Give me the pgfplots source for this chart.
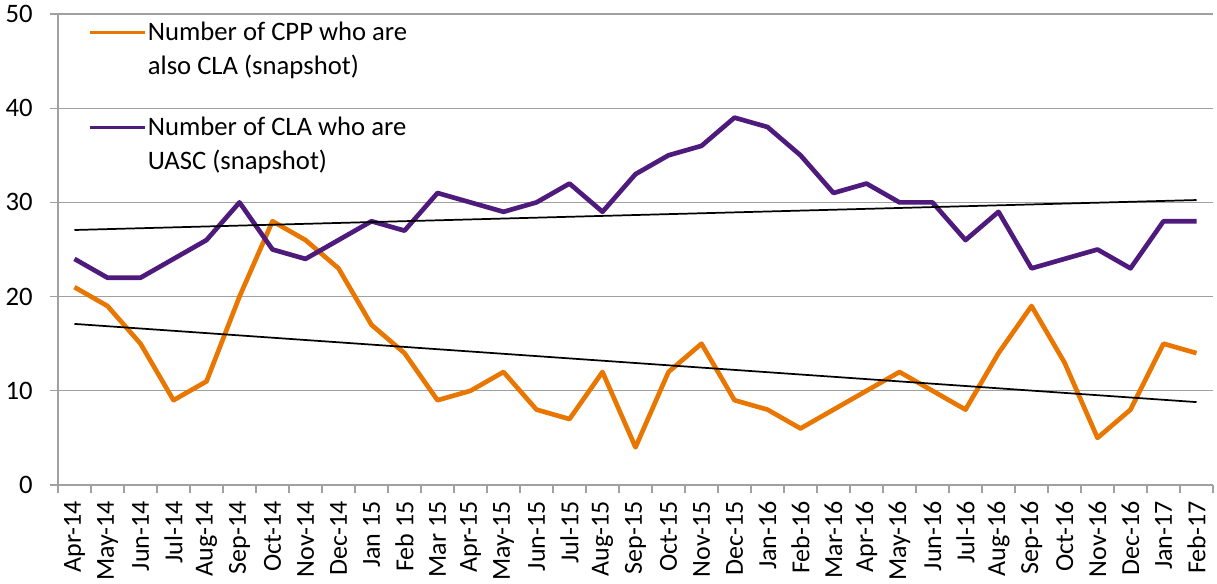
\documentclass[border=0pt]{standalone}
\usepackage{pgfplots}
\pgfplotsset{compat=1.18}
\usepackage{fontspec}
\setmainfont{Carlito}
\definecolor{cppor}{HTML}{E87600}
\definecolor{clapu}{HTML}{4E1A7C}
\definecolor{axgray}{HTML}{A0A0A0}
\begin{document}
\begin{tikzpicture}
\useasboundingbox (-43.5pt,-74.25pt) rectangle (869.25pt,363.75pt);
\begin{axis}[
  at={(0,0)}, anchor=south west,
  scale only axis,
  width=866.25pt, height=353.25pt,
  xmin=-0.5, xmax=34.5, ymin=0, ymax=50,
  axis x line*=bottom, axis y line*=left,
  axis line style={axgray, line width=1pt},
  ytick={0,10,20,30,40,50},
  ymajorgrids, grid style={axgray, line width=1pt},
  xtick={0,...,34},
  xticklabels={Apr-14,May-14,Jun-14,Jul-14,Aug-14,Sep-14,Oct-14,Nov-14,Dec-14,Jan 15,Feb 15,Mar 15,Apr-15,May-15,Jun-15,Jul-15,Aug-15,Sep-15,Oct-15,Nov-15,Dec-15,Jan-16,Feb-16,Mar-16,Apr-16,May-16,Jun-16,Jul-16,Aug-16,Sep-16,Oct-16,Nov-16,Dec-16,Jan-17,Feb-17},
  minor xtick={-0.5,0.5,...,34.5},
  tick align=outside,
  major tick length=6pt, minor tick length=6pt,
  major x tick style={draw=none},
  minor x tick style={axgray, line width=1pt},
  major y tick style={axgray, line width=1pt},
  /pgf/number format/assume math mode=true,
  xticklabel style={rotate=90, anchor=east, font=\fontsize{19.5}{24}\selectfont, inner sep=0pt, xshift=-6pt},
  yticklabel style={font=\fontsize{20}{24}\selectfont, anchor=east, inner sep=0pt, xshift=-12.75pt},
  legend style={at={(0.026,0.998)}, anchor=north west, draw=none, fill=none,
    inner sep=0pt, row sep=50pt,
    nodes={font=\fontsize{20}{25.5}\selectfont, inner sep=1pt}},
  legend cell align=left,
  legend style={cells={anchor=base west}},
  legend image code/.code={\draw[#1, line width=2.7pt] (0pt,6pt) -- (41pt,6pt);},
  line join=round,
]
\addplot[cppor, line width=3.5pt] coordinates {
(0,21)(1,19)(2,15)(3,9)(4,11)(5,20)(6,28)(7,26)(8,23)(9,17)(10,14)(11,9)(12,10)(13,12)(14,8)(15,7)(16,12)(17,4)(18,12)(19,15)(20,9)(21,8)(22,6)(23,8)(24,10)(25,12)(26,10)(27,8)(28,14)(29,19)(30,13)(31,5)(32,8)(33,15)(34,14)};
\addlegendentry{\begin{tabular}[t]{@{}l@{}}Number of CPP who are\\also CLA (snapshot)\end{tabular}}
\addplot[clapu, line width=3.5pt] coordinates {
(0,24)(1,22)(2,22)(3,24)(4,26)(5,30)(6,25)(7,24)(8,26)(9,28)(10,27)(11,31)(12,30)(13,29)(14,30)(15,32)(16,29)(17,33)(18,35)(19,36)(20,39)(21,38)(22,35)(23,31)(24,32)(25,30)(26,30)(27,26)(28,29)(29,23)(30,24)(31,25)(32,23)(33,28)(34,28)};
\addlegendentry{\begin{tabular}[t]{@{}l@{}}Number of CLA who are\\UASC (snapshot)\end{tabular}}
\addplot[black, line width=1.3pt, forget plot] coordinates {(0,17.1)(34,8.8)};
\addplot[black, line width=1.3pt, forget plot] coordinates {(0,27.07)(34,30.25)};
\end{axis}
\end{tikzpicture}
\end{document}
